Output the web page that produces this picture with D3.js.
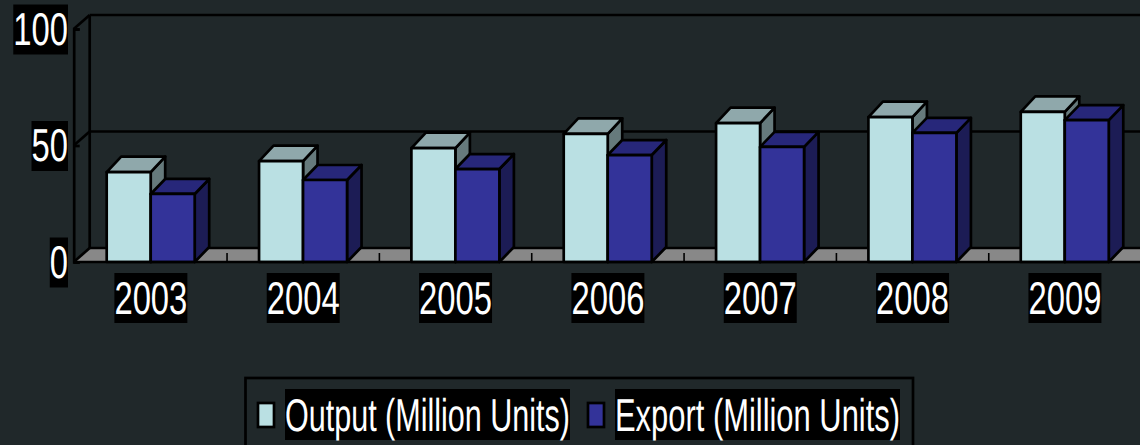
<!DOCTYPE html>
<html>
<head>
<meta charset="utf-8">
<script src="https://cdn.jsdelivr.net/npm/d3@7"></script>
<style>
  html, body { margin: 0; padding: 0; background: #20282a; overflow: hidden; }
  text { font-family: "Liberation Sans", Arial, sans-serif; fill: #fff; text-rendering: geometricPrecision; }
</style>
</head>
<body>
<div id="chart"></div>
<script>
// The data
const years = ["2003", "2004", "2005", "2006", "2007", "2008", "2009"];
const outputUnits = [38.6, 43.3, 48.9, 55, 59.6, 62.2, 64.4];
const exportUnits = [29.2, 35.2, 39.9, 45.9, 49.4, 55.4, 60.9];
const seriesNames = ["Output (Million Units)", "Export (Million Units)"];
const yTicks = [0, 50, 100];

// Colors: front, top, side
const seriesColors = [
  ["#bae0e3", "#8fa8ab", "#667a7c"],
  ["#333399", "#27277a", "#1c1c55"],
];
const BG = "#20282a";

const WIDTH = 1140;
const HEIGHT = 445;
const FONT = 46;
const TEXT_SQUEEZE = 0.713;
const LINE = 2.7;

// Depth of the fake 3D
const WALL_DX = 16;
const WALL_DY = 14;
const BAR_DX = 14.5;
const BAR_DY = [15.5, 15];

const svg = d3
  .select("#chart")
  .append("svg")
  .attr("width", WIDTH)
  .attr("height", HEIGHT)
  .style("display", "block")
  .style("background-color", BG);

// Scales
const xScale = d3.scaleBand().domain(years).range([74.7, 1141.1]);
const yScale = d3.scaleLinear().domain([0, 100]).range([262, 29]);
const barScale = d3
  .scaleBand()
  .domain(seriesNames)
  .range([32, 120]);

const x0 = xScale.range()[0];
const xEnd = WIDTH + 20;

// Floor
svg
  .append("polygon")
  .attr("fill", "#888888")
  .attr("points", [
    [x0 - 1, yScale(0)],
    [x0 - 1 + WALL_DX, yScale(0) - WALL_DY],
    [xEnd, yScale(0) - WALL_DY],
    [xEnd, yScale(0)],
  ].join(" "));

// Walls, gridlines and the small floor ticks
const wall = svg.append("g").attr("stroke", "#000").attr("stroke-width", LINE).attr("fill", "none");

yTicks.forEach((t) => {
  const y = yScale(t);
  wall.append("line").attr("x1", x0 - 1).attr("y1", y).attr("x2", x0 - 1 + WALL_DX).attr("y2", y - WALL_DY);
  wall.append("line").attr("x1", x0 - 1 + WALL_DX).attr("y1", y - WALL_DY).attr("x2", xEnd).attr("y2", y - WALL_DY);
});
wall
  .append("line")
  .attr("x1", x0 - 1 + WALL_DX)
  .attr("x2", x0 - 1 + WALL_DX)
  .attr("y1", yScale(100) - WALL_DY)
  .attr("y2", yScale(0) - WALL_DY);

wall
  .selectAll("line.floor-tick")
  .data(years.slice(1))
  .enter()
  .append("line")
  .attr("class", "floor-tick")
  .attr("stroke-width", 1.6)
  .attr("x1", (d) => xScale(d))
  .attr("x2", (d) => xScale(d))
  .attr("y1", yScale(0) - 9)
  .attr("y2", yScale(0));

// Draws one 3D bar
function drawBar(parent, x, y, w, base, dy, colors) {
  const g = parent.append("g").attr("stroke", "#000").attr("stroke-width", LINE).attr("stroke-linejoin", "round");
  g.append("polygon")
    .attr("fill", colors[2])
    .attr("points", [[x + w, y], [x + w + BAR_DX, y - dy], [x + w + BAR_DX, base - dy], [x + w, base]].join(" "));
  g.append("polygon")
    .attr("fill", colors[1])
    .attr("points", [[x, y], [x + BAR_DX, y - dy], [x + w + BAR_DX, y - dy], [x + w, y]].join(" "));
  g.append("rect")
    .attr("x", x)
    .attr("y", y)
    .attr("width", w)
    .attr("height", base - y)
    .attr("fill", colors[0]);
}

const bars = svg.append("g");
years.forEach((year, i) => {
  [outputUnits, exportUnits].forEach((values, s) => {
    drawBar(
      bars,
      xScale(year) + barScale(seriesNames[s]),
      yScale(values[i]),
      barScale.bandwidth(),
      yScale(0),
      BAR_DY[s],
      seriesColors[s]
    );
  });
});

// Front baseline on top of the bar feet
svg
  .append("line")
  .attr("stroke", "#000")
  .attr("stroke-width", LINE)
  .attr("x1", x0 - 1)
  .attr("x2", xEnd)
  .attr("y1", yScale(0))
  .attr("y2", yScale(0));

// Squeezed white text on a black box, like the original label style
function boxedText(parent, label, x, boxTop, boxHeight, baseline, anchor, squeeze, fitWidth) {
  const rect = parent.append("rect").attr("fill", "#000").attr("y", boxTop).attr("height", boxHeight);
  const text = parent
    .append("text")
    .attr("font-size", FONT)
    .attr("text-anchor", anchor)
    .text(label);
  const natural = text.node().getComputedTextLength();
  const sx = fitWidth ? fitWidth / natural : squeeze;
  text.attr("transform", `translate(${x}, ${baseline}) scale(${sx}, 1)`);
  const w = natural * sx;
  const left = anchor === "end" ? x - w : anchor === "middle" ? x - w / 2 : x;
  rect.attr("x", left).attr("width", w);
}

// Y axis
const yAxis = svg
  .append("g")
  .attr("transform", `translate(${x0 - 1}, 0)`)
  .call(d3.axisLeft(yScale).tickValues(yTicks).tickSize(-6).tickFormat(""));
yAxis.selectAll("path, line").attr("stroke", "#000").attr("stroke-width", LINE);

yTicks.forEach((t) => {
  boxedText(svg, String(t), 68, yScale(t) - 24.5, 50, yScale(t) + 15.5, "end", TEXT_SQUEEZE);
});

// X axis labels
const xAxis = svg
  .append("g")
  .attr("transform", `translate(0, ${yScale(0)})`)
  .call(d3.axisBottom(xScale).tickSize(0).tickFormat(""));
xAxis.select("path").remove();

years.forEach((year) => {
  boxedText(svg, year, xScale(year) + xScale.bandwidth() / 2, 273, 50, 313.5, "middle", TEXT_SQUEEZE);
});

// Legend, the box runs off the bottom of the picture
svg
  .append("rect")
  .attr("x", 245.5)
  .attr("y", 378)
  .attr("width", 667.5)
  .attr("height", 90)
  .attr("fill", "none")
  .attr("stroke", "#000")
  .attr("stroke-width", LINE);

const legendSwatchX = [258, 588];
const legendTextX = [285, 615];
seriesNames.forEach((name, s) => {
  svg
    .append("rect")
    .attr("x", legendSwatchX[s])
    .attr("y", 403)
    .attr("width", 16)
    .attr("height", 24)
    .attr("fill", seriesColors[s][0])
    .attr("stroke", "#000")
    .attr("stroke-width", 2.7);
  boxedText(svg, name, legendTextX[s], 389, 51, 430.5, "start", TEXT_SQUEEZE, 285);
});
</script>
</body>
</html>
